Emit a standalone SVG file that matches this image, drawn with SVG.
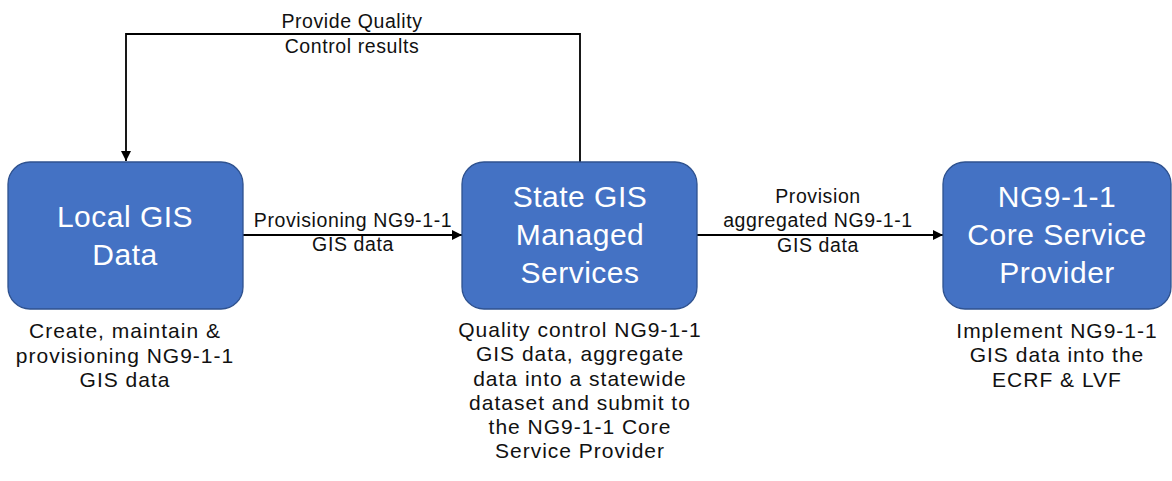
<svg xmlns="http://www.w3.org/2000/svg" width="1172" height="481" viewBox="0 0 1172 481">
  <defs>
    <marker id="arrow" viewBox="0 0 10 10" refX="10" refY="5" markerWidth="10" markerHeight="10" markerUnits="userSpaceOnUse" orient="auto">
      <path d="M0,0 L10,5 L0,10 Z" fill="#000"/>
    </marker>
    <style>
      .box { fill: #4472C4; stroke: #2F528F; stroke-width: 1.3; }
      .title { font-family: "Liberation Sans", Arial, sans-serif; font-size: 30px; letter-spacing: 0.5px; fill: #fff; text-anchor: middle; }
      .desc { font-family: "Liberation Sans", Arial, sans-serif; font-size: 21px; letter-spacing: 1px; fill: #111; text-anchor: middle; }
      .label { font-family: "Liberation Sans", Arial, sans-serif; font-size: 19.5px; letter-spacing: 0.6px; fill: #111; text-anchor: middle; }
      .link { fill: none; stroke: #000; stroke-width: 1.8; marker-end: url(#arrow); }
    </style>
  </defs>
  <rect width="1172" height="481" fill="#fff"/>

  <!-- connectors -->
  <g id="connectors">
    <path class="link" d="M580,162 V34 H126 V161"/>
    <path class="link" d="M243,235 H462"/>
    <path class="link" d="M697,235 H943"/>
    <text class="label" x="352" y="28">Provide Quality</text>
    <text class="label" x="352" y="53">Control results</text>
    <text class="label" x="353" y="227">Provisioning NG9-1-1</text>
    <text class="label" x="353" y="251">GIS data</text>
    <text class="label" x="818" y="203">Provision</text>
    <text class="label" x="818" y="227">aggregated NG9-1-1</text>
    <text class="label" x="818" y="252">GIS data</text>
  </g>

  <!-- local data source -->
  <g id="local-gis">
    <rect class="box" x="8" y="162" width="235" height="147" rx="22"/>
    <text class="title" x="125" y="227">Local GIS</text>
    <text class="title" x="125" y="265">Data</text>
    <text class="desc" x="125" y="338">Create, maintain &amp;</text>
    <text class="desc" x="125" y="363">provisioning NG9-1-1</text>
    <text class="desc" x="125" y="387">GIS data</text>
  </g>

  <!-- state aggregation -->
  <g id="state-gis">
    <rect class="box" x="462" y="162" width="235" height="147" rx="22"/>
    <text class="title" x="580" y="207">State GIS</text>
    <text class="title" x="580" y="245">Managed</text>
    <text class="title" x="580" y="283">Services</text>
    <text class="desc" x="580" y="337">Quality control NG9-1-1</text>
    <text class="desc" x="580" y="361">GIS data, aggregate</text>
    <text class="desc" x="580" y="386">data into a statewide</text>
    <text class="desc" x="580" y="410">dataset and submit to</text>
    <text class="desc" x="580" y="434">the NG9-1-1 Core</text>
    <text class="desc" x="580" y="458">Service Provider</text>
  </g>

  <!-- core service provider -->
  <g id="core-provider">
    <rect class="box" x="943" y="162" width="228" height="147" rx="22"/>
    <text class="title" x="1057" y="207">NG9-1-1</text>
    <text class="title" x="1057" y="245">Core Service</text>
    <text class="title" x="1057" y="283">Provider</text>
    <text class="desc" x="1057" y="338">Implement NG9-1-1</text>
    <text class="desc" x="1057" y="362">GIS data into the</text>
    <text class="desc" x="1057" y="387">ECRF &amp; LVF</text>
  </g>
</svg>
